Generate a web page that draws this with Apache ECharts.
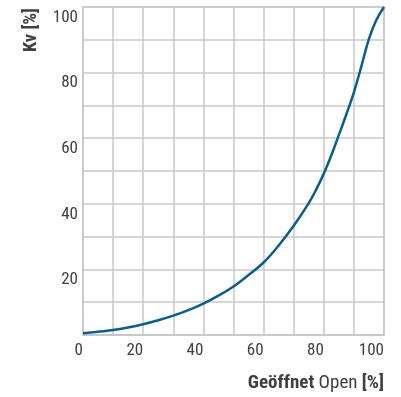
<!DOCTYPE html>
<html><head><meta charset="utf-8">
<script src="https://cdn.jsdelivr.net/npm/echarts@6/dist/echarts.min.js"></script>
<style>html,body{margin:0;padding:0;background:#fff}#c{width:401px;height:397px}</style>
</head><body><div id="c"></div>
<script>
const openPct = [0, 5, 10, 15, 20, 25, 30, 35, 40, 45, 50, 55, 60, 65, 70, 75, 77.5, 80, 82.5, 85, 87.5, 90, 92.5, 95, 97.5, 100];
const kvPct   = [0.5, 1.0, 1.5, 2.3, 3.3, 4.5, 5.9, 7.6, 9.6, 12, 14.8, 18.3, 22.1, 27.3, 33.3, 40.2, 44.4, 49.2, 54.8, 61, 67.3, 74, 82, 90.3, 96.1, 100];
const xTicks = [0, 20, 40, 60, 80, 100];
const yTicks = [20, 40, 60, 80, 100];
const FONT = '"Liberation Sans Narrow", "Roboto Condensed", "Liberation Sans", sans-serif';
const TXT = '#404040';
const GRID = '#c8c8c8';
const chart = echarts.init(document.getElementById('c'));
chart.setOption({
  animation: false,
  grid: {left: 83, right: 17, top: 7, bottom: 62},
  xAxis: {
    type: 'value', min: 0, max: 100, interval: 10,
    axisLine: {show: true, lineStyle: {color: GRID, width: 1.5}},
    axisTick: {show: false},
    splitLine: {show: true, lineStyle: {color: GRID, width: 1.5}},
    axisLabel: {
      color: TXT, fontFamily: FONT, fontSize: 17, margin: 7, align: 'right',
      formatter: v => xTicks.includes(v) ? String(v) : ''
    }
  },
  yAxis: {
    type: 'value', min: 0, max: 100, interval: 10,
    axisLine: {show: true, lineStyle: {color: GRID, width: 1.5}},
    axisTick: {show: false},
    splitLine: {show: true, lineStyle: {color: GRID, width: 1.5}},
    axisLabel: {
      color: TXT, fontFamily: FONT, fontSize: 17, margin: 5, verticalAlign: 'top',
      padding: [2, 0, 0, 0],
      formatter: v => yTicks.includes(v) ? String(v) : ''
    }
  },
  graphic: [
    {type: 'rect', shape: {x: 83, y: 7, width: 301, height: 328}, style: {fill: 'none', stroke: GRID, lineWidth: 1.5}, z: 1, silent: true},
    {type: 'text', x: 31, y: 30, rotation: Math.PI / 2,
      style: {text: 'Kv [%]', font: 'bold 18.5px ' + FONT, fill: TXT, align: 'center', verticalAlign: 'middle'}},
    {type: 'text', x: 384, y: 383,
      style: {
        text: '{b|Geöffnet} {r|Open} {b|[%]}', align: 'right', verticalAlign: 'middle',
        rich: {
          b: {fontFamily: FONT, fontWeight: 'bold', fontSize: 19, fill: TXT, color: TXT},
          r: {fontFamily: FONT, fontWeight: 'normal', fontSize: 19, fill: TXT, color: TXT}
        },
        fontFamily: FONT, fontSize: 19, fill: TXT
      }}
  ],
  series: [{
    type: 'line', smooth: 0.4, symbol: 'none',
    data: openPct.map((x, i) => [x, kvPct[i]]),
    lineStyle: {color: '#0a5e8e', width: 2.5}, z: 5
  }]
});
</script></body></html>
